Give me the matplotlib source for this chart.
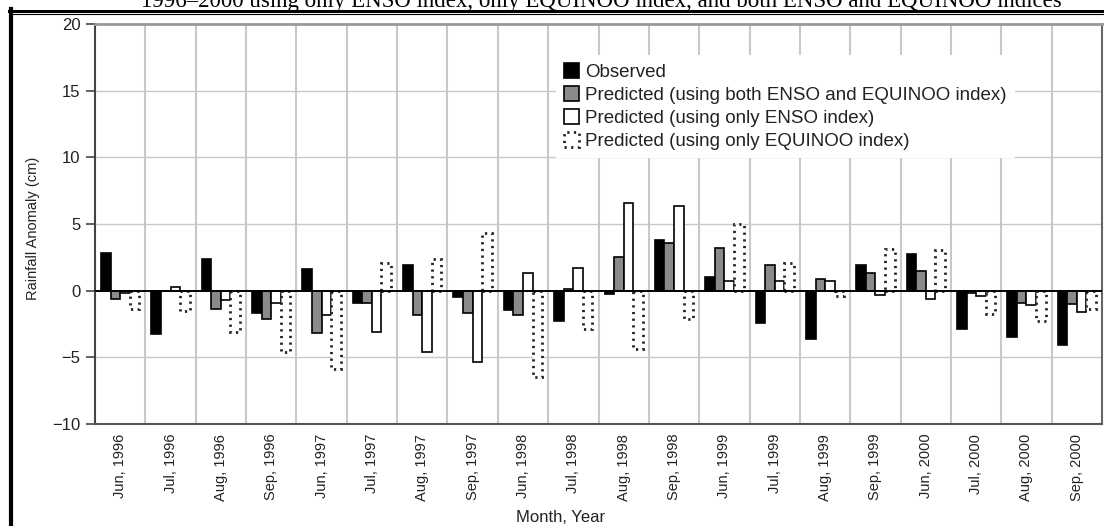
import matplotlib
matplotlib.use("Agg")
import matplotlib.pyplot as plt
from matplotlib.lines import Line2D
import numpy as np

plt.rcParams['font.family'] = ['Liberation Sans', 'DejaVu Sans']

months = ["Jun, 1996", "Jul, 1996", "Aug, 1996", "Sep, 1996",
          "Jun, 1997", "Jul, 1997", "Aug, 1997", "Sep, 1997",
          "Jun, 1998", "Jul, 1998", "Aug, 1998", "Sep, 1998",
          "Jun, 1999", "Jul, 1999", "Aug, 1999", "Sep, 1999",
          "Jun, 2000", "Jul, 2000", "Aug, 2000", "Sep, 2000"]

observed = [2.85, -3.25, 2.35, -1.7, 1.6, -0.9, 1.9, -0.5, -1.45, -2.3,
            -0.25, 3.8, 1.05, -2.4, -3.65, 1.95, 2.75, -2.9, -3.45, -4.1]
pred_both = [-0.6, -0.05, -1.4, -2.1, -3.2, -0.9, -1.85, -1.7, -1.8, 0.1,
             2.55, 3.6, 3.2, 1.95, 0.85, 1.35, 1.45, -0.15, -0.9, -1.0]
pred_enso = [-0.2, 0.3, -0.7, -0.9, -1.85, -3.1, -4.6, -5.35, 1.35, 1.7,
             6.55, 6.35, 0.7, 0.7, 0.7, -0.3, -0.6, -0.4, -1.1, -1.6]
pred_equinoo = [-1.4, -1.5, -3.1, -4.6, -5.9, 2.05, 2.4, 4.3, -6.5, -2.9,
                -4.4, -2.1, 5.0, 2.05, -0.4, 3.15, 3.05, -1.75, -2.3, -1.35]

labels = ["Observed",
          "Predicted (using both ENSO and EQUINOO index)",
          "Predicted (using only ENSO index)",
          "Predicted (using only EQUINOO index)"]

# caption line is cut off at the top of the scan
title = "1996\u20132000 using only ENSO index, only EQUINOO index, and both ENSO and EQUINOO indices"

W, H = 1104, 526
fig = plt.figure(figsize=(W / 100, H / 100), dpi=100)
ax_l, ax_r, ax_t, ax_b = 95, 1102, 24, 424
ax = fig.add_axes([ax_l / W, 1 - ax_b / H, (ax_r - ax_l) / W, (ax_b - ax_t) / H])

x = np.arange(len(months))
w = 0.19

# bars
ax.bar(x - 1.5 * w, observed, w, color="black", edgecolor="black", lw=1.2,
       label=labels[0], zorder=3)
ax.bar(x - 0.5 * w, pred_both, w, color="#8a8a8a", edgecolor="black", lw=1.2,
       label=labels[1], zorder=3)
ax.bar(x + 0.5 * w, pred_enso, w, color="white", edgecolor="black", lw=1.2,
       label=labels[2], zorder=3)
ax.bar(x + 1.5 * w, pred_equinoo, w, color="white", edgecolor="#222222", lw=2.0,
       linestyle=(0, (0.8, 1.6)), label=labels[3], zorder=3)

ax.set_xlim(-0.5, len(months) - 0.5)
ax.set_ylim(-10, 20)
ax.set_yticks(np.arange(-10, 21, 5))
ax.set_xticks(x)
ax.set_xticklabels(months, rotation=90, fontsize=10.5, color="#222222")
ax.tick_params(axis="x", length=0, pad=7)
ax.tick_params(axis="y", length=6.5, width=1.2, color="#444444", pad=4,
               labelsize=12, labelcolor="#222222")

# grid
for v in [-5, 5, 10, 15]:
    ax.axhline(v, color="#c8c8c8", lw=1.0, zorder=1)
for b in np.arange(0.5, len(months) - 0.5, 1):
    ax.axvline(b, color="#c8c8c8", lw=1.5, zorder=1)
ax.axhline(0, color="black", lw=1.4, zorder=4)

ax.spines["left"].set_color("#444444")
ax.spines["left"].set_linewidth(1.5)
ax.spines["bottom"].set_color("#555555")
ax.spines["bottom"].set_linewidth(1.5)
ax.spines["top"].set_color("#999999")
ax.spines["top"].set_linewidth(2.0)
ax.spines["right"].set_color("#666666")
ax.spines["right"].set_linewidth(1.5)

ax.set_ylabel("Rainfall Anomaly (cm)", fontsize=10.5, color="#222222")
ax.yaxis.set_label_coords((40 - ax_l) / (ax_r - ax_l), (ax_b - 228) / (ax_b - ax_t))
fig.text(561 / W, 1 - 518 / H, "Month, Year", fontsize=12, color="#222222",
         ha="center", va="center")

leg = ax.legend(loc="upper left", bbox_to_anchor=((556 - ax_l) / (ax_r - ax_l), (ax_b - 55) / (ax_b - ax_t)),
                fontsize=13.5, frameon=True, fancybox=False, edgecolor="none",
                facecolor="white", framealpha=1, handlelength=0.8, handleheight=0.8,
                handletextpad=0.3, labelspacing=0.28, borderpad=0.45, borderaxespad=0)
leg.set_zorder(5)
for t in leg.get_texts():
    t.set_color("#222222")

# scan frame and clipped caption
fig.add_artist(Line2D([11 / W, 11 / W], [0, 1 - 9 / H], transform=fig.transFigure,
                      color="black", lw=3))
fig.add_artist(Line2D([9 / W, 1], [1 - 11 / H, 1 - 11 / H], transform=fig.transFigure,
                      color="black", lw=2.2))
fig.add_artist(Line2D([11 / W, 1], [1 - 14 / H, 1 - 14 / H], transform=fig.transFigure,
                      color="black", lw=0.8))
fig.text(0.545, 1 - 7 / H, title, fontsize=16.5, family="Liberation Serif",
         ha="center", va="baseline")

fig.savefig("out.png", dpi=100)
